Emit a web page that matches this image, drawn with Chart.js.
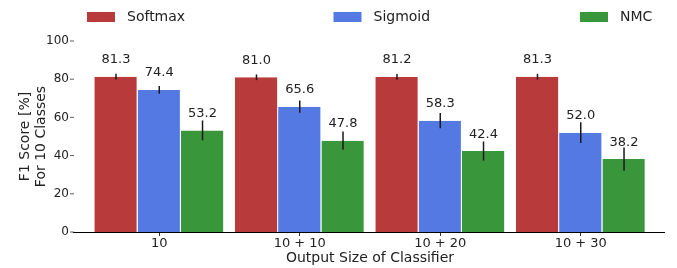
<!DOCTYPE html>
<html>
<head>
<meta charset="utf-8">
<script src="https://cdn.jsdelivr.net/npm/chart.js@4.4.1/dist/chart.umd.min.js"></script>
<style>
  body { margin: 0; background: #fff; }
  #wrap { width: 677px; height: 268px; }
</style>
</head>
<body>
<div id="wrap"><canvas id="myChart"></canvas></div>
<script>
var categories = ['10', '10 + 10', '10 + 20', '10 + 30'];
var softmaxScores = [81.3, 81.0, 81.2, 81.3];
var softmaxErrors = [1.5, 1.5, 1.5, 1.5];
var sigmoidScores = [74.4, 65.6, 58.3, 52.0];
var sigmoidErrors = [2.0, 3.2, 4.0, 5.4];
var nmcScores = [53.2, 47.8, 42.4, 38.2];
var nmcErrors = [5.2, 4.8, 5.0, 6.1];
var yTicks = [0, 20, 40, 60, 80, 100];

var FONT = 'DejaVu Sans';
var TEXT = '#222';

// error bars + value labels on top of each bar
var errorBarPlugin = {
  id: 'errorBars',
  afterDatasetsDraw: function (chart) {
    var ctx = chart.ctx;
    var yScale = chart.scales.y;
    ctx.save();
    chart.data.datasets.forEach(function (ds, di) {
      var meta = chart.getDatasetMeta(di);
      meta.data.forEach(function (bar, i) {
        var v = ds.data[i];
        var e = ds.errors[i];
        var y1 = yScale.getPixelForValue(v + e);
        var y2 = yScale.getPixelForValue(v - e);
        ctx.strokeStyle = '#1a1a1a';
        ctx.lineWidth = 1.5;
        ctx.beginPath();
        ctx.moveTo(bar.x, y1);
        ctx.lineTo(bar.x, y2);
        ctx.stroke();
        ctx.fillStyle = TEXT;
        ctx.font = '13px "' + FONT + '"';
        ctx.textAlign = 'center';
        ctx.textBaseline = 'alphabetic';
        ctx.fillText(v.toFixed(1), bar.x, bar.y - 13.5);
      });
    });
    ctx.restore();
  },
  afterDraw: function (chart) {
    var ctx = chart.ctx;
    var area = chart.chartArea;
    var yScale = chart.scales.y;
    ctx.save();
    // bottom spine, a bit wider than the bar area
    ctx.strokeStyle = '#000';
    ctx.lineWidth = 1;
    ctx.beginPath();
    ctx.moveTo(73, Math.round(area.bottom) + 0.5);
    ctx.lineTo(665, Math.round(area.bottom) + 0.5);
    ctx.stroke();
    // y tick marks
    ctx.strokeStyle = '#333';
    ctx.lineWidth = 0.8;
    yTicks.forEach(function (t) {
      var y = yScale.getPixelForValue(t);
      ctx.beginPath();
      ctx.moveTo(70, y);
      ctx.lineTo(74, y);
      ctx.stroke();
    });
    // legend spread across the top
    ctx.font = '14px "' + FONT + '"';
    ctx.textAlign = 'left';
    ctx.textBaseline = 'middle';
    chart.data.datasets.forEach(function (ds, i) {
      var x = 87 + i * 246.5;
      ctx.fillStyle = ds.backgroundColor;
      ctx.fillRect(x, 12, 28, 10);
      ctx.fillStyle = TEXT;
      ctx.fillText(ds.label, x + 40, 17.5);
    });
    ctx.restore();
  }
};

var ctx = document.getElementById('myChart').getContext('2d');

var chartData = {
  type: 'bar',
  data: {
    labels: categories,
    datasets: [
      {
        label: 'Softmax',
        data: softmaxScores,
        errors: softmaxErrors,
        backgroundColor: '#b83a3b',
        borderColor: '#ffffff',
        borderWidth: { top: 0, left: 0, bottom: 0, right: 1 },
      },
      {
        label: 'Sigmoid',
        data: sigmoidScores,
        errors: sigmoidErrors,
        backgroundColor: '#5579e3',
        borderColor: '#ffffff',
        borderWidth: { top: 0, left: 0, bottom: 0, right: 1 },
      },
      {
        label: 'NMC',
        data: nmcScores,
        errors: nmcErrors,
        backgroundColor: '#3a963a',
        borderColor: '#ffffff',
        borderWidth: { top: 0, left: 0, bottom: 0, right: 1 },
      },
    ],
  },
  options: {
    responsive: true,
    maintainAspectRatio: false,
    animation: false,
    layout: { padding: { left: 0, right: 26, top: 41, bottom: 0 } },
    datasets: { bar: { categoryPercentage: 0.924, barPercentage: 1.0 } },
    plugins: {
      legend: { display: false },
      tooltip: { enabled: false },
    },
    scales: {
      x: {
        grid: { display: true, drawOnChartArea: false, drawTicks: true, tickLength: 4, offset: false, color: '#333' },
        border: { display: false },
        ticks: { color: TEXT, font: { family: FONT, size: 13 }, padding: 0, maxRotation: 0 },
        title: { display: true, text: 'Output Size of Classifier', color: TEXT, font: { family: FONT, size: 14 }, padding: { top: 0, bottom: 1 } },
        afterFit: function (scale) { scale.height = 36; },
      },
      y: {
        min: 0,
        max: 100,
        afterBuildTicks: function (scale) {
          scale.ticks = yTicks.map(function (v) { return { value: v }; });
        },
        grid: { display: false, drawTicks: false },
        border: { display: false },
        ticks: { color: TEXT, font: { family: FONT, size: 12 }, padding: 20 },
        title: {
          display: true,
          text: ['F1 Score [%]', 'For 10 Classes'],
          color: TEXT,
          font: { family: FONT, size: 14, lineHeight: 1.1 },
          padding: { top: 18, bottom: 0 },
        },
        afterFit: function (scale) { scale.width = 89; },
      },
    },
  },
  plugins: [errorBarPlugin],
};

var myChart = new Chart(ctx, chartData);
</script>
</body>
</html>
